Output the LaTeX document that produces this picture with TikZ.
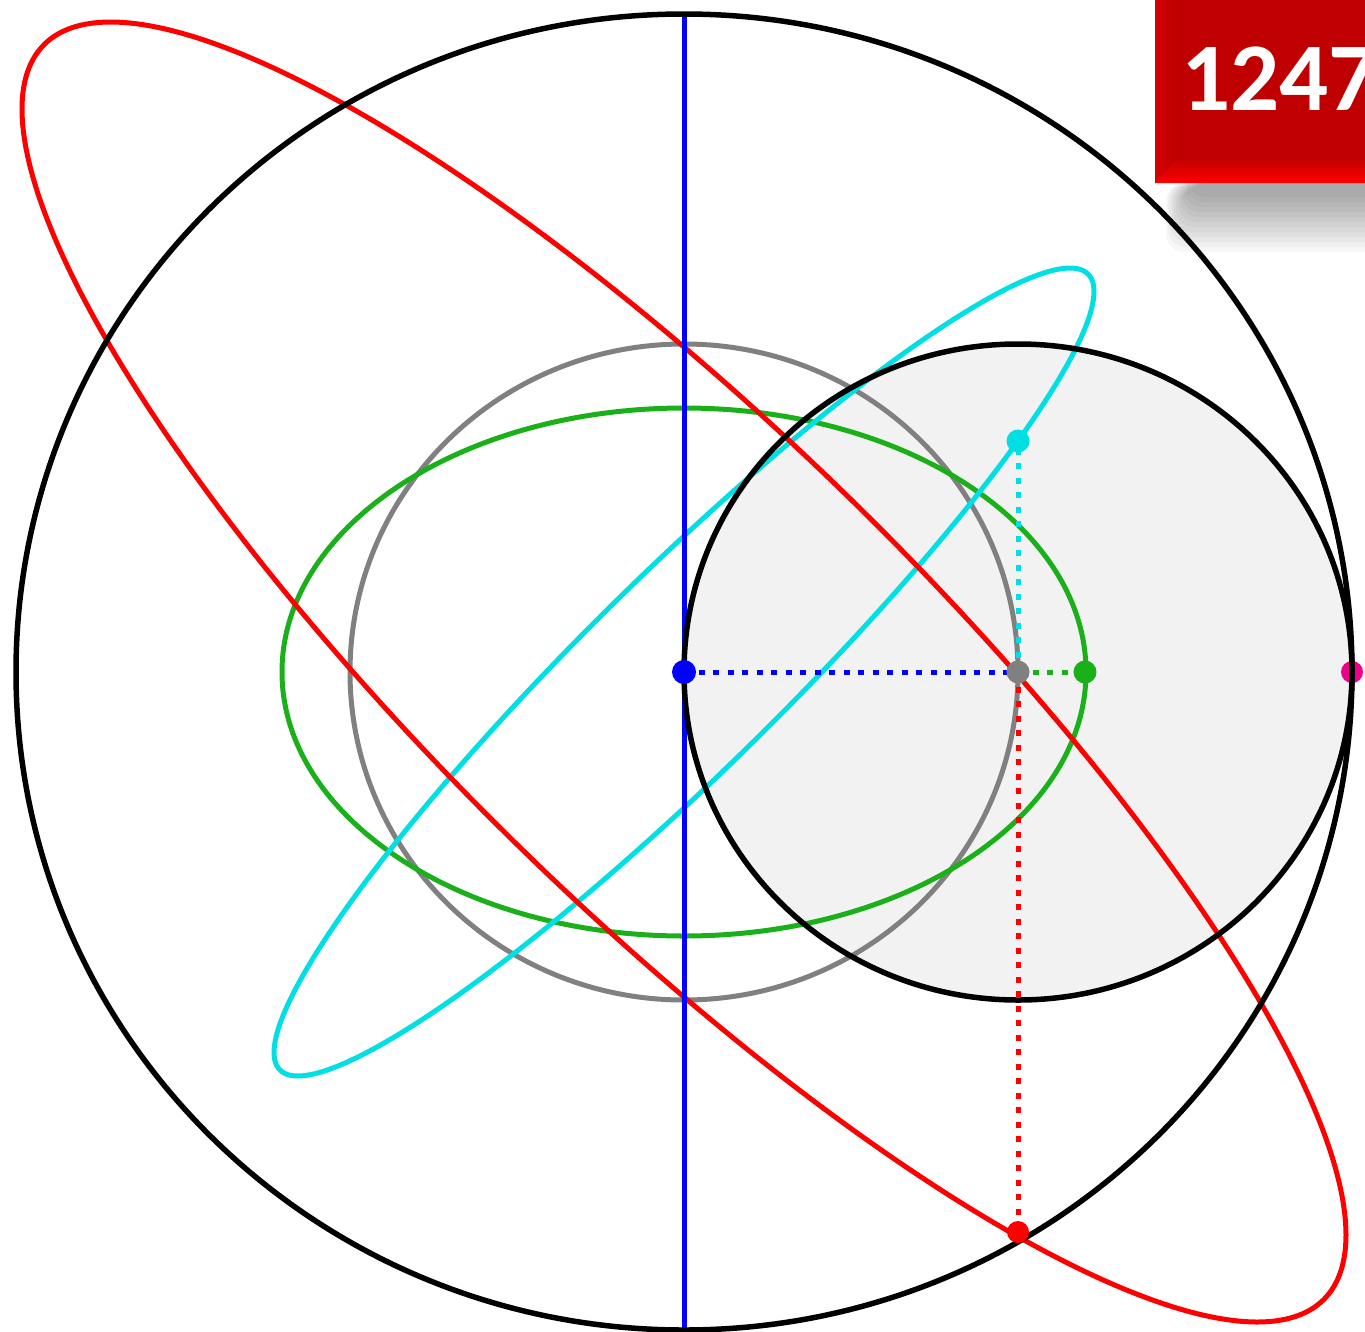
\documentclass[tikz,border=0pt]{standalone}
\usepackage{fontspec}
\newfontfamily\boxfont{Carlito}
\definecolor{boxred}{RGB}{192,0,0}
\definecolor{cyancol}{RGB}{0,224,228}
\definecolor{greencol}{RGB}{26,176,26}
\definecolor{graycol}{RGB}{128,128,128}
\definecolor{smallgray}{RGB}{242,242,242}
\begin{document}
\begin{tikzpicture}[x=1pt,y=-1pt,
  blk/.style={draw=black,line width=5.5pt},
  crv/.style={line width=5pt},
  dotl/.style={line width=5pt,dash pattern=on 6pt off 8.5pt},
  dotnode/.style={circle,inner sep=0pt,minimum size=23pt}]
\useasboundingbox (0,0) rectangle (1365,1331);
\fill[white] (0,0) rectangle (1365,1331);
% key points
\coordinate (O) at (684,672);
\coordinate (G) at (1018,672);
\coordinate (Gr) at (1085,672);
\coordinate (Cy) at (1018,441);
\coordinate (Rd) at (1018,1232);
\coordinate (M) at (1352,672);
\coordinate (Top) at (684,12);
\coordinate (Bot) at (684,1331);
% shaded small circle
\fill[smallgray] (G) ellipse [x radius=334pt, y radius=328pt];
% curves
\draw[crv,draw=graycol] (O) ellipse [x radius=334pt, y radius=328pt];
\draw[crv,draw=greencol] (O) ellipse [x radius=402pt, y radius=264pt];
\draw[crv,draw=cyancol] plot[domain=0:358.5,samples=240,smooth cycle,variable=\t]
  ({684+410*cos(\t)},{672-404*cos(\t-19.67)});
\draw[crv,draw=red] plot[domain=0:358.5,samples=240,smooth cycle,variable=\t]
  ({684+662*cos(\t)},{672+650*cos(\t-30)});
\draw[crv,draw=blue] (Top) -- (Bot);
% dotted guides
\draw[dotl,draw=blue] (O) -- (G);
\draw[dotl,draw=greencol] (G) -- (Gr);
\draw[dotl,draw=cyancol] (G) -- (Cy);
\draw[dotl,draw=red] (G) -- (Rd);
% magenta point (under the circles)
\node[dotnode,fill=magenta,minimum size=22pt] (m) at (M) {};
% black circles
\draw[blk] (O) ellipse [x radius=668pt, y radius=658pt];
\draw[blk] (G) ellipse [x radius=334pt, y radius=328pt];
% points
\node[dotnode,fill=blue,minimum size=24pt] (o) at (O) {};
\node[dotnode,fill=graycol] (g) at (G) {};
\node[dotnode,fill=greencol] (gr) at (Gr) {};
\node[dotnode,fill=cyancol] (cy) at (Cy) {};
\node[dotnode,fill=red,minimum size=22pt] (rd) at (Rd) {};
% label box with shadow
\begin{scope}
\clip (0,0) rectangle (1365,1331);
\foreach \i in {0,...,11}
  \fill[black,opacity=0.033,rounded corners=18pt] (1166+2*\i,183) rectangle (1420,252-5*\i);
\fill[boxred] (1155,0) rectangle (1370,183);
\shade[left color={rgb,255:red,214;green,0;blue,0},right color=boxred]
  (1155,0) -- (1174,0) -- (1174,162) -- (1155,183) -- cycle;
\shade[top color={rgb,255:red,200;green,0;blue,0},bottom color={rgb,255:red,255;green,0;blue,0}]
  (1155,183) -- (1370,183) -- (1370,160) -- (1176,160) -- cycle;
\node[anchor=base west,text=white,inner sep=0pt,
  font=\boxfont\bfseries\fontsize{97}{97}\selectfont] (num) at (1181,110) {1247};
\end{scope}
\end{tikzpicture}
\end{document}
